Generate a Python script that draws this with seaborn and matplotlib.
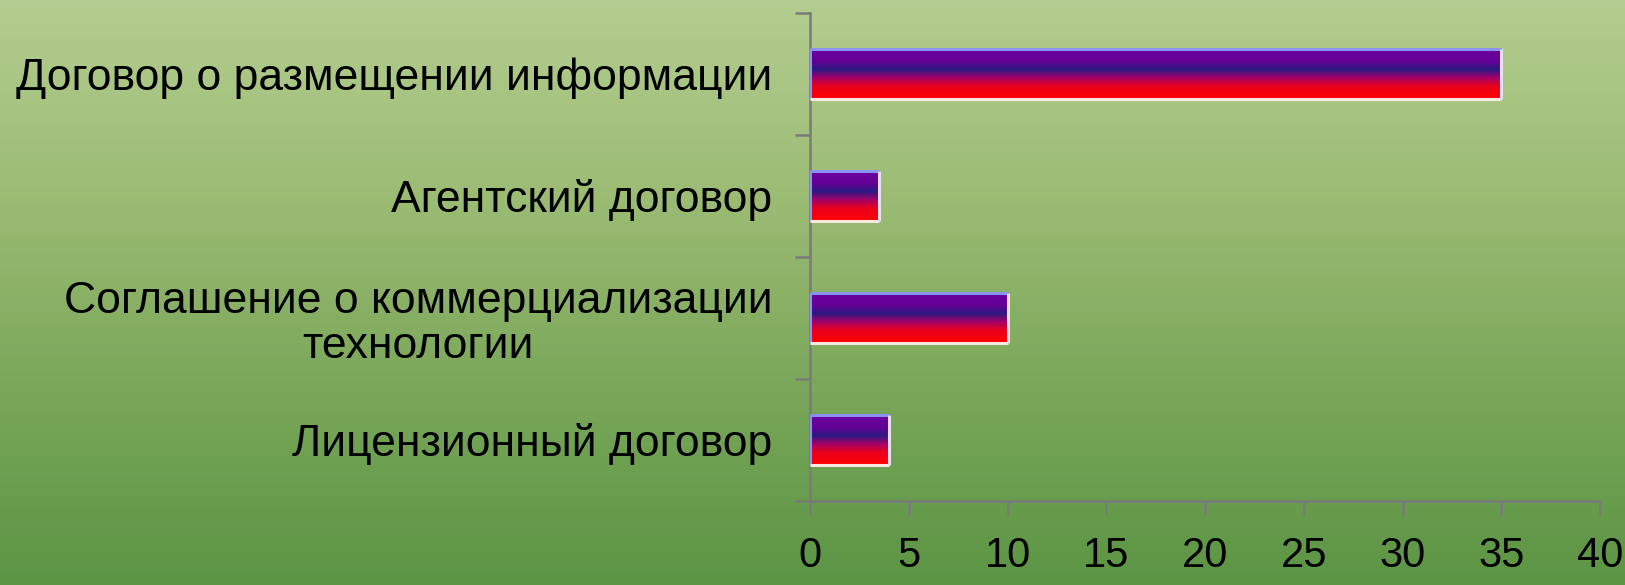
import numpy as np
import pandas as pd
import seaborn as sns
import matplotlib
matplotlib.use('Agg')
from matplotlib import pyplot as plt
from matplotlib.colors import LinearSegmentedColormap

# Data
categories = ['Договор о размещении информации',
              'Агентский договор',
              'Соглашение о коммерциализации\nтехнологии',
              'Лицензионный договор']
values = [35, 3.5, 10, 4]
x_ticks = [0, 5, 10, 15, 20, 25, 30, 35, 40]

df = pd.DataFrame({'category': categories, 'value': values})

sns.set_style('white')
plt.rcParams['font.family'] = ['Liberation Sans', 'DejaVu Sans']
plt.rcParams['text.color'] = 'black'
plt.rcParams['xtick.labelcolor'] = 'black'
plt.rcParams['ytick.labelcolor'] = 'black'

fig = plt.figure(figsize=(16.25, 5.85), dpi=100)

# green background gradient (light top -> darker bottom)
bg_ax = fig.add_axes([0, 0, 1, 1], zorder=-1)
bg_cmap = LinearSegmentedColormap.from_list('bg', ['#b4cd90', '#9cbc74', '#7aa75a', '#5b9544'])
bg_ax.imshow(np.linspace(0, 1, 256).reshape(-1, 1), cmap=bg_cmap, aspect='auto',
             extent=[0, 1, 0, 1], origin='upper')
bg_ax.axis('off')

ax = fig.add_axes([0.4985, 0.1436, 0.4862, 0.8342])
ax.patch.set_alpha(0)

sns.barplot(data=df, y='category', x='value', orient='h', width=0.41,
            color='#5a0096', ax=ax)

bar_cmap = LinearSegmentedColormap.from_list(
    'bar', [(0.0, '#6c00a0'), (0.25, '#640096'), (0.42, '#2c1a80'),
            (0.58, '#a0006a'), (0.75, '#e8001e'), (1.0, '#ff0000')])
grad = np.linspace(0, 1, 128).reshape(-1, 1)
for p in ax.patches:
    x0, y0, w, h = p.get_x(), p.get_y(), p.get_width(), p.get_height()
    p.set_facecolor('none')
    p.set_edgecolor('none')
    im = ax.imshow(grad, cmap=bar_cmap, aspect='auto', origin='upper',
                   extent=[x0, x0 + w, y0 + h, y0], zorder=2)
    im.set_clip_path(p)
    # light rim: bluish top/left, whitish bottom/right
    ax.plot([x0, x0 + w], [y0, y0], color='#8a94f0', lw=2.2, zorder=3, solid_capstyle='butt')
    ax.plot([x0, x0], [y0, y0 + h], color='#8a94f0', lw=2.2, zorder=3, solid_capstyle='butt')
    ax.plot([x0, x0 + w], [y0 + h, y0 + h], color='#f4e8e0', lw=2.2, zorder=3, solid_capstyle='butt')
    ax.plot([x0 + w, x0 + w], [y0, y0 + h], color='#e8e0f0', lw=2.2, zorder=3, solid_capstyle='butt')

ax.set_xlim(0, 40)
ax.set_ylim(len(categories) - 0.5, -0.5)
ax.set_xticks(x_ticks)
ax.set_xticklabels([str(t) for t in x_ticks], fontsize=30)
ax.set_yticks(range(len(categories)))
ax.set_yticklabels(categories, fontsize=32)
for lab in ax.get_yticklabels():
    lab.set_multialignment('center')
    lab.set_linespacing(1.1)
ax.set_yticks(np.arange(-0.5, len(categories), 1), minor=True)
ax.tick_params(axis='y', which='major', length=0, pad=27)
ax.tick_params(axis='y', which='minor', length=11, width=1.8, color='#7a7a7a', direction='out', left=True)
ax.tick_params(axis='x', which='major', length=11, width=1.8, color='#7a7a7a', direction='out',
               bottom=True, pad=14)
ax.set_xlabel('')
ax.set_ylabel('')

for side in ['top', 'right']:
    ax.spines[side].set_visible(False)
for side in ['left', 'bottom']:
    ax.spines[side].set_color('#7a7a7a')
    ax.spines[side].set_linewidth(1.8)

fig.savefig('out.png', dpi=100)
